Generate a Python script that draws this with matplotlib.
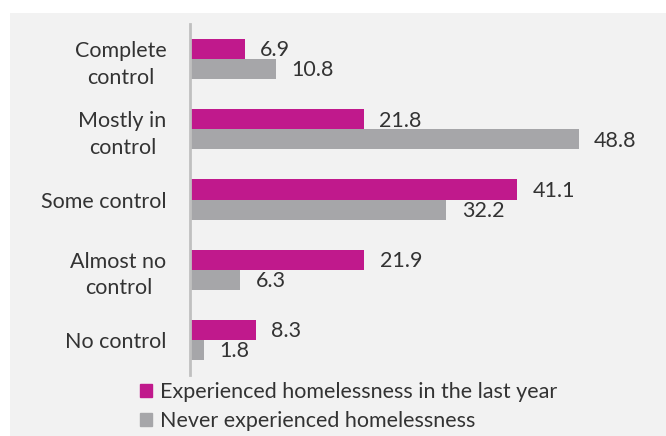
import matplotlib.pyplot as plt
import numpy as np
from matplotlib.patches import Rectangle, Patch

plt.rcParams["font.family"] = ["Lato", "DejaVu Sans"]

categories = ["Complete\ncontrol", "Mostly in\ncontrol", "Some control",
              "Almost no\ncontrol", "No control"]
homeless_last_year = [6.9, 21.8, 41.1, 21.9, 8.3]
never_homeless = [10.8, 48.8, 32.2, 6.3, 1.8]
series_names = ["Experienced homelessness in the last year",
                "Never experienced homelessness"]

MAGENTA = "#c0198c"
GREY = "#a6a6a9"
TEXT = "#333333"
BG = "#f2f2f2"
FS = 15.5

W, H = 666, 436
fig = plt.figure(figsize=(W / 100, H / 100), dpi=100, facecolor="white")
fig.patches.append(Rectangle((10 / W, 0), 1 - 10 / W, (H - 13) / H,
                             transform=fig.transFigure, facecolor=BG,
                             edgecolor="none", zorder=-1))

ax = fig.add_axes([190 / W, 61 / H, 462 / W, 351 / H])
ax.set_facecolor("none")

y = np.arange(len(categories))
h = 0.285
b1 = ax.barh(y - h / 2, homeless_last_year, height=h, color=MAGENTA)
b2 = ax.barh(y + h / 2, never_homeless, height=h, color=GREY)

for bars, vals in ((b1, homeless_last_year), (b2, never_homeless)):
    for bar, v in zip(bars, vals):
        ax.annotate(f"{v:.1f}", (v, bar.get_y() + bar.get_height() / 2),
                    xytext=(11, -1), textcoords="offset points",
                    va="center", ha="left", fontsize=FS, color=TEXT)

ax.set_xlim(0, 58)
ax.set_ylim(len(categories) - 0.5, -0.5)
ax.set_yticks(y)
ax.set_yticklabels(categories, fontsize=FS, color=TEXT,
                   multialignment="center", linespacing=1.4)
ax.tick_params(axis="y", length=0, pad=17)
ax.set_xticks([])
for s in ("top", "right", "bottom"):
    ax.spines[s].set_visible(False)
ax.spines["left"].set_color("#c0c0c0")
ax.spines["left"].set_linewidth(2)

handles = [Patch(color=MAGENTA), Patch(color=GREY)]
fig.legend(handles, series_names, loc="upper left",
           bbox_to_anchor=(129 / W, 1 - 371 / H), frameon=False,
           fontsize=FS, labelcolor=TEXT, handlelength=0.55, handleheight=0.55,
           handletextpad=0.4, labelspacing=0.45, borderpad=0)

fig.savefig("out.png", dpi=100, facecolor=fig.get_facecolor())
